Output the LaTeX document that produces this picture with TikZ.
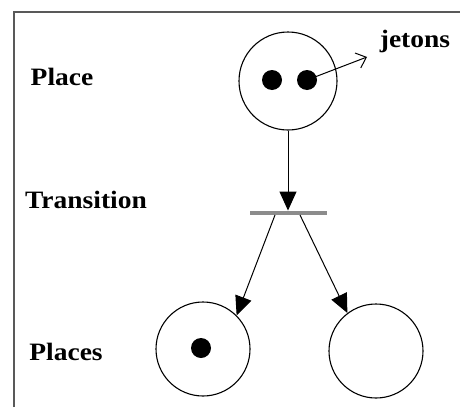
\documentclass[tikz,border=0pt]{standalone}
\usepackage{fontspec}
\setmainfont{Liberation Serif}
\newfontfamily\labfont[FakeStretch=1.1]{Liberation Serif}
\usetikzlibrary{arrows.meta}
\begin{document}
\begin{tikzpicture}[x=1pt,y=-1pt,
  lab/.style={font=\labfont\bfseries\fontsize{25}{25}\selectfont, anchor=base, inner sep=0pt},
  place/.style={circle, draw=black, line width=1.1pt, minimum size=#1, inner sep=0pt},
  token/.style={circle, fill=black, minimum size=20pt, inner sep=0pt},
  arc/.style={draw=black, line width=1pt, -{Triangle[length=19pt,width=17pt]}},
  tokarrow/.style={draw=black, line width=1pt, -{Straight Barb[length=9pt,width=16pt,line width=1pt]}}
]
\useasboundingbox (0,0) rectangle (460,407);
\fill[white] (0,0) rectangle (460,407);
\draw[line width=1.5pt, draw=black!65] (14,407) -- (14,12) -- (460,12);

% places
\node[place=98pt] (p1) at (288,81) {};
\node[place=94pt] (p2) at (203,349) {};
\node[place=94pt] (p3) at (376,351) {};

% tokens
\node[token] (t1) at (272,80) {};
\node[token] (t2) at (307,80) {};
\node[token] (t3) at (201,348) {};

% transition
\node[fill=black!45, minimum width=77pt, minimum height=4.5pt, inner sep=0pt] (tr) at (288,213) {};

% arcs
\draw[arc] (p1.south) -- (tr.north);
\coordinate (tl) at (275,215);
\coordinate (trr) at (300,215);
\draw[arc] (tl) -- (p2.45);
\draw[arc] (trr) -- (p3.127);

% token arrow
\coordinate (jt) at (367,57);
\draw[tokarrow] (t2.center) -- (jt);

% labels
\node[lab] (lplace) at (62,85) {Place};
\node[lab] (ltrans) at (86,208) {Transition};
\node[lab] (lplaces) at (66,360) {Places};
\node[lab] (ljet) at (415,47) {jetons};
\end{tikzpicture}
\end{document}
